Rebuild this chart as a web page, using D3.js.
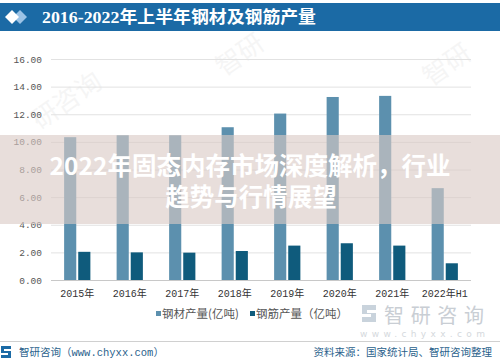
<!DOCTYPE html>
<html>
<head>
<meta charset="utf-8">
<script src="https://cdn.jsdelivr.net/npm/d3@7"></script>
<style>
  body { margin: 0; background: #fff; }
  svg { display: block; }
</style>
</head>
<body>
<div id="chart"></div>
<script>
const categories = ["2015年", "2016年", "2017年", "2018年", "2019年", "2020年", "2021年", "2022年H1"];
const steelOutput = [10.34, 10.48, 10.48, 11.06, 12.05, 13.25, 13.33, 6.65];
const rebarOutput = [2.04, 2.00, 1.98, 2.10, 2.49, 2.66, 2.49, 1.21];
const yTicks = [0, 2, 4, 6, 8, 10, 12, 14, 16];
const seriesNames = ["钢材产量(亿吨)", "钢筋产量（亿吨）"];

const W = 500, H = 361;
const svg = d3.select("#chart").append("svg").attr("width", W).attr("height", H);
const cjk = "'Noto Sans CJK SC', 'Noto Sans', sans-serif";

// faint watermarks
const marks = [[72, 108, -35, "研咨询"], [245, 62, -35, "智研"], [452, 72, -35, "智研"]];
svg.selectAll(".wm").data(marks).enter().append("text")
  .attr("transform", d => `translate(${d[0]},${d[1]}) rotate(${d[2]})`)
  .attr("text-anchor", "middle")
  .style("font-family", cjk).style("font-size", "26px")
  .style("fill", "#000").style("opacity", 0.035)
  .text(d => d[3]);

// title bar
svg.append("rect").attr("x", 0).attr("y", 3).attr("width", W).attr("height", 28).attr("fill", "#1b6aa5");
svg.append("path").attr("d", "M20,10 L27,17 L20,24 L13,17 Z").attr("fill", "#9cc3e6");
svg.append("path").attr("d", "M12,10 L19,17 L12,24 L5,17 Z").attr("fill", "#ffffff");
svg.append("text").attr("x", 42).attr("y", 23)
  .attr("textLength", 274).attr("lengthAdjust", "spacingAndGlyphs")
  .style("font-family", "'Liberation Serif', 'Noto Sans CJK SC', serif")
  .style("font-size", "17px").style("font-weight", "bold").style("fill", "#fff")
  .text("2016-2022年上半年钢材及钢筋产量");

// chart area
const margin = { left: 51, right: 29, top: 59, bottom: 81 };
const x0 = d3.scaleBand().domain(categories).range([margin.left, W - margin.right]).paddingInner(0).paddingOuter(0);
const x1 = d3.scaleBand().domain([0, 1]).range([0, x0.bandwidth() * 0.5]).paddingInner(0.14);
const y = d3.scaleLinear().domain([0, 16]).range([H - margin.bottom, margin.top]);
const g = svg.append("g");

// gridlines + y axis
const yAxis = g.append("g").attr("transform", `translate(${margin.left},0)`)
  .call(d3.axisLeft(y).tickValues(yTicks).tickFormat(d3.format(".2f"))
        .tickSize(-(W - margin.left - margin.right)).tickPadding(9));
yAxis.select(".domain").remove();
yAxis.selectAll(".tick line").attr("stroke", d => d === 0 ? "#c8c8c8" : "#e2e2e2");
yAxis.selectAll(".tick text").style("font-family", "'Liberation Mono', monospace")
  .style("font-size", "9.5px").style("fill", "#555");

// x axis labels
const xAxis = g.append("g").attr("transform", `translate(0,${H - margin.bottom})`)
  .call(d3.axisBottom(x0).tickSize(0).tickPadding(10));
xAxis.select(".domain").remove();
xAxis.selectAll(".tick text").style("font-family", "'Liberation Mono', " + cjk)
  .style("font-size", "10px").style("fill", "#333");

const colors = ["#5c90ae", "#0f5b7c"];
const groupOffset = x0.bandwidth() * 0.25;
[steelOutput, rebarOutput].forEach((vals, s) => {
  g.selectAll(".bar" + s).data(vals).enter().append("rect")
    .attr("x", (d, i) => x0(categories[i]) + groupOffset + x1(s))
    .attr("y", d => y(d))
    .attr("width", x1.bandwidth())
    .attr("height", d => y(0) - y(d))
    .attr("fill", colors[s]);
});

// legend
const legend = svg.append("g").style("font-family", cjk).style("font-size", "11.5px").style("fill", "#555");
const legendX = [156, 250];
seriesNames.forEach((n, i) => {
  legend.append("rect").attr("x", legendX[i]).attr("y", 311).attr("width", 5).attr("height", 5).attr("fill", colors[i]);
  legend.append("text").attr("x", legendX[i] + 6).attr("y", 318).text(n);
});

// brand watermark bottom right
svg.append("path").attr("d", "M362,305 h14 v5 h-9 v3 h9 v9 h-14 v-5 h9 v-3 h-9 z")
  .attr("fill", "#c9d3dc");
svg.append("text").attr("x", 384).attr("y", 323)
  .style("font-family", cjk).style("font-size", "20px").style("fill", "#c9ced4")
  .attr("textLength", 100).text("智研咨询");
svg.append("text").attr("x", 360).attr("y", 337)
  .style("font-family", "'DejaVu Sans', sans-serif").style("font-size", "9px").style("fill", "#d5d9dd")
  .attr("textLength", 125).text("www.chyxx.com");

// footer
svg.append("line").attr("x1", 0).attr("x2", W).attr("y1", 341.5).attr("y2", 341.5).attr("stroke", "#d0d0d0");
svg.append("path").attr("d", "M1,346 h10 v3 h-7 v2 h7 v7 h-10 v-3 h7 v-2 h-7 z").attr("fill", "#1b6aa5");
svg.append("text").attr("x", 19).attr("y", 356)
  .style("font-family", "'Liberation Mono', " + cjk).style("font-size", "10.5px").style("fill", "#2a5f8c")
  .text("智研咨询（www.chyxx.com）");
svg.append("text").attr("x", 492).attr("y", 356).attr("text-anchor", "end")
  .style("font-family", cjk).style("font-size", "10.5px").style("fill", "#2a5f8c")
  .text("资料来源：国家统计局、智研咨询整理");

// overlay banner
svg.append("rect").attr("x", 0).attr("y", 135).attr("width", W).attr("height", 89)
  .attr("fill", "rgb(218,202,197)").attr("opacity", 0.62);
const banner = svg.append("g").style("font-family", cjk).style("font-weight", "bold")
  .style("font-size", "24.5px").style("fill", "#fff").attr("text-anchor", "middle");
banner.append("text").attr("x", 250).attr("y", 175).text("2022年固态内存市场深度解析，行业");
banner.append("text").attr("x", 251).attr("y", 206).text("趋势与行情展望");
</script>
</body>
</html>
